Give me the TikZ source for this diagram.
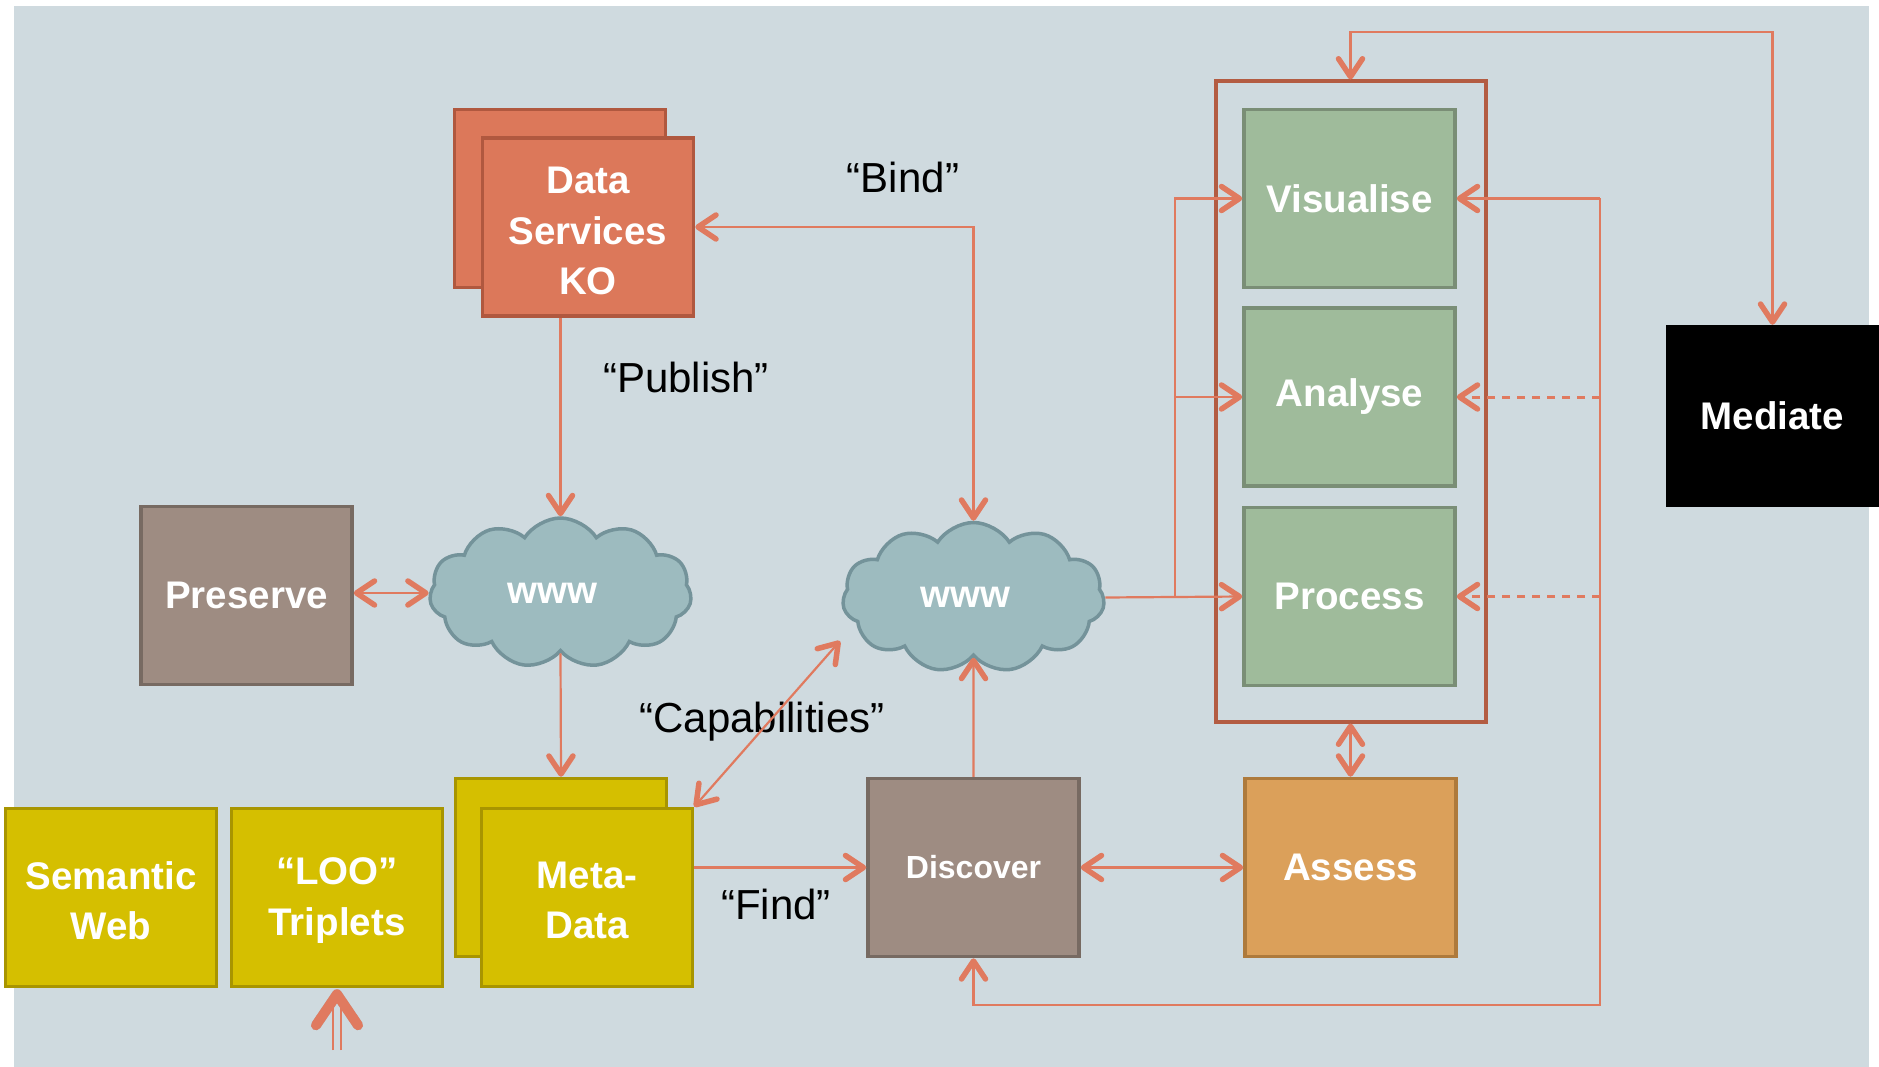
\documentclass[tikz,border=0pt]{standalone}
\usepackage{fontspec}
\setmainfont{Liberation Sans}
\usetikzlibrary{arrows.meta,shapes.symbols,calc}
\definecolor{bgc}{HTML}{CFDADF}
\definecolor{arr}{HTML}{E07A5F}
\definecolor{dsfill}{HTML}{DC785A}
\definecolor{dsdraw}{HTML}{B0583F}
\definecolor{prfill}{HTML}{9E8C82}
\definecolor{prdraw}{HTML}{776A62}
\definecolor{yefill}{HTML}{D5BF00}
\definecolor{yedraw}{HTML}{A89500}
\definecolor{clfill}{HTML}{9DBBBF}
\definecolor{cldraw}{HTML}{74939A}
\definecolor{grfill}{HTML}{9FBB9B}
\definecolor{grdraw}{HTML}{7A8E76}
\definecolor{asfill}{HTML}{DBA05A}
\definecolor{asdraw}{HTML}{AE7A3C}
\definecolor{ctdraw}{HTML}{B35C42}
\newcommand\bxfont{\fontsize{38.5}{50.5}\selectfont\bfseries}
\newcommand\dcfont{\fontsize{32}{40}\selectfont\bfseries}
\newcommand\lbfont{\fontsize{42}{50}\selectfont}
\newcommand\mlines[2]{\parbox{200pt}{\centering\vspace*{#1}#2}}
\tikzset{
  barb/.tip={Straight Barb[length=18pt,width=24pt,line width=5.5pt,round]},
  box/.style={rectangle, line width=3.5pt, minimum width=211pt, minimum height=178pt,
    inner sep=0pt, text=white, font=\bxfont, align=center},
  conn/.style={draw=arr, line width=2.2pt},
  dconn/.style={draw=arr, line width=3pt, dash pattern=on 8pt off 7pt},
  lab/.style={font=\lbfont, text=black, anchor=base, inner sep=0pt},
  wcloud/.style={cloud, cloud puffs=11, cloud puff arc=115, cloud ignores aspect,
    minimum width=262pt, minimum height=150pt, fill=clfill, draw=cldraw, line width=3.5pt,
    text=white, font=\bxfont, inner sep=0pt}
}
\begin{document}
\begin{tikzpicture}[x=1pt,y=-1pt]
\useasboundingbox (0,0) rectangle (1879,1067);
\fill[white] (0,0) rectangle (1879,1067);
\fill[bgc] (14,6) rectangle (1869,1067);

% container
\node[rectangle, draw=ctdraw, line width=4pt, minimum width=270pt, minimum height=640pt, inner sep=0pt]
  (container) at (1350.5,401.5) {};

% boxes
\node[box, fill=dsfill, draw=dsdraw] (dsBack) at (560,198.5) {};
\node[box, fill=dsfill, draw=dsdraw] (dsFront) at (588,227) {\mlines{8pt}{Data\\Services\\KO}};
\node[box, fill=prfill, draw=prdraw] (preserve) at (246.5,595.5) {Preserve};
\node[box, fill=yefill, draw=yedraw] (mdBack) at (561,867.5) {};
\node[box, fill=yefill, draw=yedraw] (mdFront) at (587,897.5) {\mlines{6pt}{Meta-\\Data}};
\node[box, fill=yefill, draw=yedraw] (semweb) at (111,897.5) {\mlines{6pt}{Semantic\\Web}};
\node[box, fill=yefill, draw=yedraw] (loo) at (337,897.5) {\mlines{6pt}{“LOO”\\Triplets}};
\node[box, fill=prfill, draw=prdraw, font=\dcfont] (discover) at (973.5,867.5) {Discover};
\node[box, fill=asfill, draw=asdraw] (assess) at (1350.5,867.5) {Assess};
\node[box, fill=grfill, draw=grdraw] (visualise) at (1349.5,198.5) {Visualise};
\node[box, fill=grfill, draw=grdraw] (analyse) at (1349.5,397) {Analyse};
\node[box, fill=grfill, draw=grdraw] (process) at (1349.5,596.5) {Process};
\node[rectangle, fill=black, minimum width=213pt, minimum height=182pt, inner sep=0pt,
  text=white, font=\bxfont] (mediate) at (1772.5,416) {Mediate};

% clouds
\node[wcloud] (cloud1) at (560.5,593) {\kern-16pt www};
\node[wcloud] (cloud2) at (973.5,597.5) {\kern-16pt www};

% labels
\node[lab] (lbind) at (903,193) {“Bind”};
\node[lab] (lpub) at (686,392) {“Publish”};
\node[lab] (lcap) at (762,732) {“Capabilities”};
\node[lab] (lfind) at (776,919) {“Find”};

% coordinates
\coordinate (capEnd) at (840,641);
\coordinate (br) at (1175,597.5);
\coordinate (rt) at (1600,198.5);
\coordinate (rb) at (1600,1005);
\coordinate (topline) at (0,32);
\coordinate (looIn) at (337,1050);

% connectors
\draw[conn, barb-barb] (dsFront.east) -| (cloud2.north);
\draw[conn, -barb] (dsFront.south -| cloud1.north) -- (cloud1.north);
\draw[conn, barb-barb] (preserve.east |- cloud1.west) -- (cloud1.west);
\draw[conn, -barb] (cloud1.south) -- (mdBack.north);
\draw[conn, barb-barb] (mdFront.north east) -- (capEnd);
\draw[conn, -barb] (mdFront.east |- discover.west) -- (discover.west);
\draw[conn, -barb] (discover.north) -- (cloud2.south);
\draw[conn, barb-barb] (discover.east) -- (assess.west);
\draw[conn, barb-barb] (container.south) -- (assess.north);
\draw[conn, -barb] (cloud2.east) -- (process.west);
\draw[conn, -barb] (br) |- (visualise.west);
\draw[conn, -barb] (br) |- (analyse.west);
\draw[conn, -barb] (rt) -- (visualise.east);
\draw[dconn, -barb] (rt |- analyse.east) -- (analyse.east);
\draw[dconn, -barb] (rt |- process.east) -- (process.east);
\draw[conn, -barb] (rt) -- (rb) -| (discover.south);
\draw[conn, barb-barb] (container.north) |- (topline -| mediate.north) -- (mediate.north);

% thick input arrow under LOO Triplets
\begin{scope}[shift={(3,3)}, draw=black!45, opacity=0.45]
  \draw[line width=2.5pt] ($(looIn)+(-4,0)$) -- ($(loo.south)+(-4,12)$);
  \draw[line width=2.5pt] ($(looIn)+(4,0)$) -- ($(loo.south)+(4,12)$);
  \draw[line width=10pt, line cap=round, line join=round]
    ($(loo.south)+(-21,37)$) -- ($(loo.south)+(0,6)$) -- ($(loo.south)+(21,37)$);
\end{scope}
\draw[arr, line width=2.5pt] ($(looIn)+(-4,0)$) -- ($(loo.south)+(-4,12)$);
\draw[arr, line width=2.5pt] ($(looIn)+(4,0)$) -- ($(loo.south)+(4,12)$);
\draw[arr, line width=10pt, line cap=round, line join=round]
  ($(loo.south)+(-21,37)$) -- ($(loo.south)+(0,6)$) -- ($(loo.south)+(21,37)$);
\end{tikzpicture}
\end{document}
